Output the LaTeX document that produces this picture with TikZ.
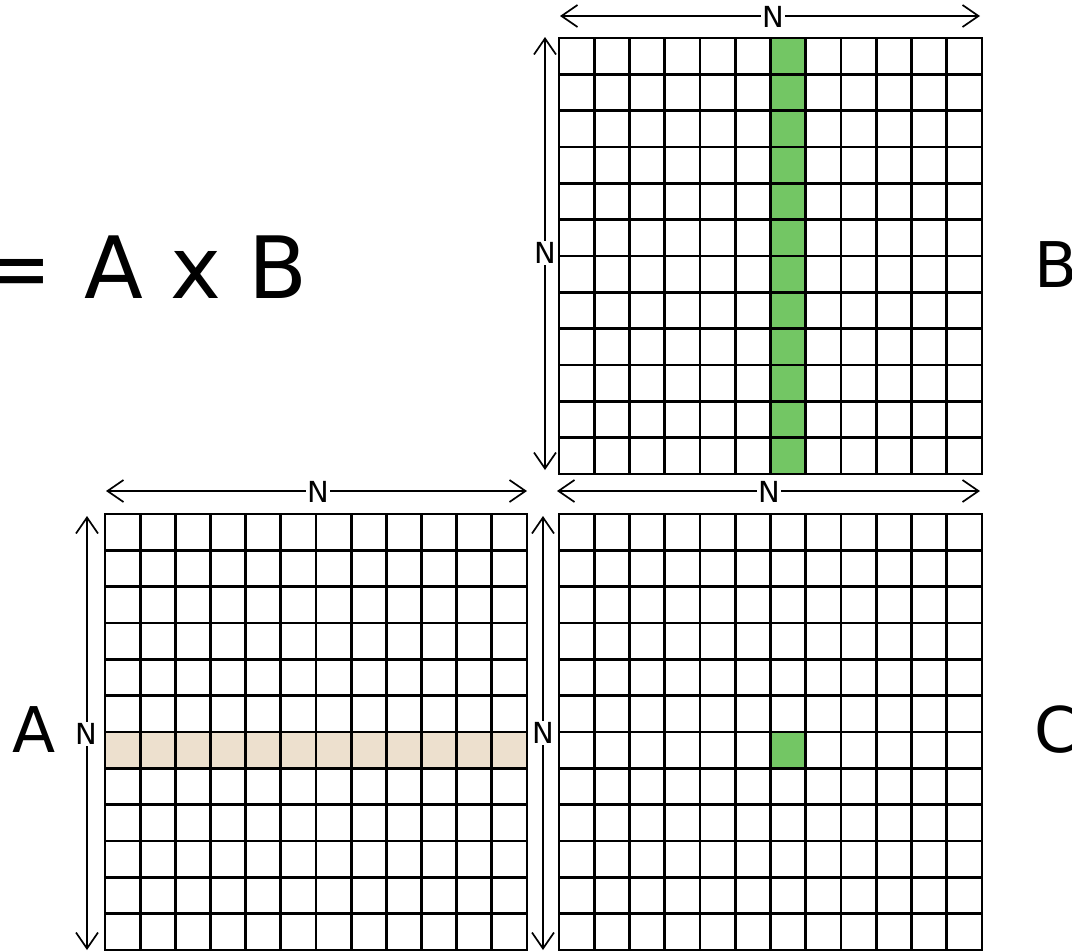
\documentclass[tikz,border=0pt]{standalone}
\usepackage{fontspec}
\setmainfont{DejaVu Sans}
\usetikzlibrary{arrows.meta}
\definecolor{cgreen}{RGB}{115,198,100}
\definecolor{cbeige}{RGB}{237,224,206}
\newcommand\mygrid[4]{%
  \foreach \i in {0,...,12} {
    \draw[gridline] ({#1+\i*#3/12},#2) -- ++(0,#4);
    \draw[gridline] (#1,{#2+\i*#4/12}) -- ++(#3,0);
  }}
\begin{document}
\begin{tikzpicture}[x=1pt,y=-1pt,
  gridline/.style={line width=2.8pt, line cap=rect},
  dim/.style={line width=1.7pt, {Straight Barb[length=16pt,width=22pt]}-{Straight Barb[length=16pt,width=22pt]}},
  dimlabel/.style={fill=white, inner sep=1.5pt, font=\fontsize{29}{29}\selectfont},
  bigtext/.style={anchor=base west, inner sep=0pt, font=\fontsize{86}{86}\selectfont},
  mlabel/.style={anchor=base west, inner sep=0pt, font=\fontsize{63}{63}\selectfont}]
\useasboundingbox (0,0) rectangle (1072,951);
\fill[white] (0,0) rectangle (1072,951);
% fills
\fill[cgreen] ({559+6*423/12},38) rectangle ({559+7*423/12},474);
\fill[cbeige] (105,{514+6*436/12}) rectangle (527,{514+7*436/12});
\fill[cgreen] ({559+6*423/12},{514+6*436/12}) rectangle ({559+7*423/12},{514+7*436/12});
% grids
\mygrid{559}{38}{423}{436}
\mygrid{105}{514}{422}{436}
\mygrid{559}{514}{423}{436}
% dimension coordinates
\coordinate (bh1) at (560,16); \coordinate (bh2) at (980,16);
\coordinate (bv1) at (545,37); \coordinate (bv2) at (545,470);
\coordinate (ah1) at (106,491); \coordinate (ah2) at (527,491);
\coordinate (av1) at (87,516); \coordinate (av2) at (87,950);
\coordinate (ch1) at (557,491); \coordinate (ch2) at (980,491);
\coordinate (cv1) at (543,516); \coordinate (cv2) at (543,950);
\draw[dim] (bh1) -- (bh2);
\draw[dim] (bv1) -- (bv2);
\draw[dim] (ah1) -- (ah2);
\draw[dim] (av1) -- (av2);
\draw[dim] (ch1) -- (ch2);
\draw[dim] (cv1) -- (cv2);
\node[dimlabel] (nbh) at (773,17) {N};
\node[dimlabel] (nbv) at (545,253) {N};
\node[dimlabel] (nah) at (318,492) {N};
\node[dimlabel] (nav) at (86,734) {N};
\node[dimlabel] (ncv) at (543,733) {N};
\node[dimlabel] (nch) at (769,492) {N};
% texts
\node[bigtext] (eq) at (-20,298) {=\hspace{5pt} A x B};
\node[mlabel] (lb) at (1034,287) {B};
\node[mlabel] (lc) at (1034,752) {C};
\node[mlabel] (la) at (12,752) {A};
\end{tikzpicture}
\end{document}
